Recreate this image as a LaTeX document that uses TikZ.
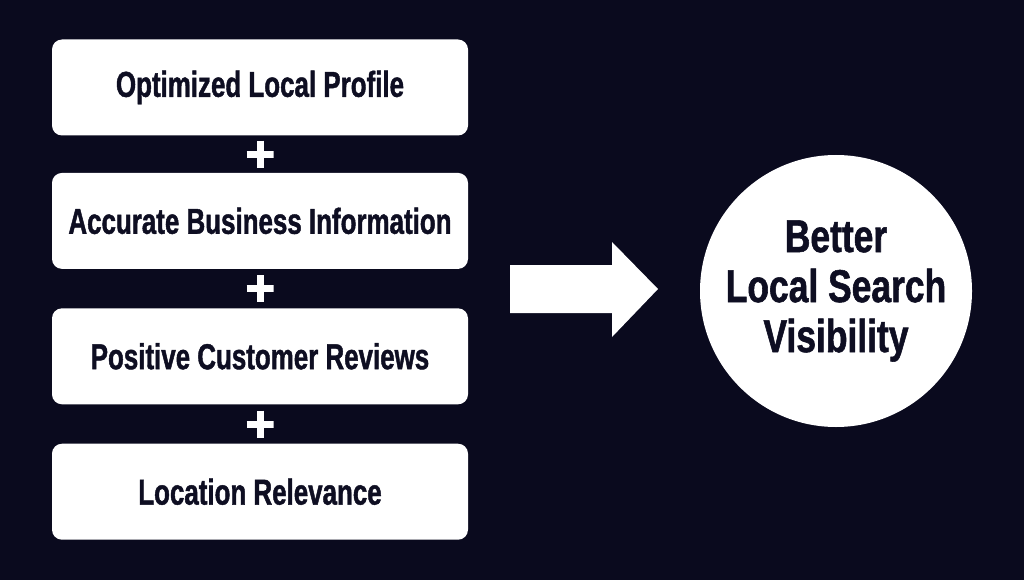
\documentclass[tikz,border=0pt]{standalone}
\usepackage{fontspec}
\newfontfamily\condfont{Liberation Sans}[FakeStretch=0.72, FakeBold=1.2]
\newfontfamily\circfont{Liberation Sans}[FakeStretch=0.77, FakeBold=1.2]
\usetikzlibrary{positioning,calc}
\definecolor{nightbg}{RGB}{10,10,30}
\definecolor{inkdark}{RGB}{14,14,34}
\tikzset{
  factor/.style={rounded corners=10pt, fill=white, minimum width=416pt, minimum height=96pt,
                 inner sep=0pt, text=inkdark, font=\condfont\bfseries\fontsize{36}{42}\selectfont},
  plussign/.style={minimum size=27pt, inner sep=0pt,
                   path picture={\draw[white, line width=7pt]
                     (path picture bounding box.north) -- (path picture bounding box.south)
                     (path picture bounding box.west) -- (path picture bounding box.east);}},
  result/.style={circle, fill=white, minimum size=272pt, inner sep=0pt, align=center,
                 text=inkdark, font=\circfont\bfseries\fontsize{46}{50}\selectfont},
}
\begin{document}
\begin{tikzpicture}[x=1pt, y=-1pt]
  \fill[nightbg] (0,0) rectangle (1024,580);
  \useasboundingbox (0,0) rectangle (1024,580);
  % left column of factors
  \node[factor] (prof) at (260,87.5) {Optimized Local Profile};
  \node[factor, below=37pt of prof] (info) {Accurate Business Information};
  \node[factor, below=39pt of info] (revs) {Positive Customer Reviews};
  \node[factor, below=39pt of revs] (loc) {Location Relevance};
  \node[plussign] (plusa) at ($(prof.south)!0.5!(info.north)$) {};
  \node[plussign] (plusb) at ($(info.south)!0.5!(revs.north)$) {};
  \node[plussign] (plusc) at ($(revs.south)!0.5!(loc.north)$) {};
  % outcome
  \node[result] (goal) at (836,291) {Better\\Local Search\\Visibility};
  \fill[white] (510,265) -- (612,265) -- (612,242) -- (658,289) -- (612,337)
    -- (612,313) -- (510,313) -- cycle;
\end{tikzpicture}
\end{document}
